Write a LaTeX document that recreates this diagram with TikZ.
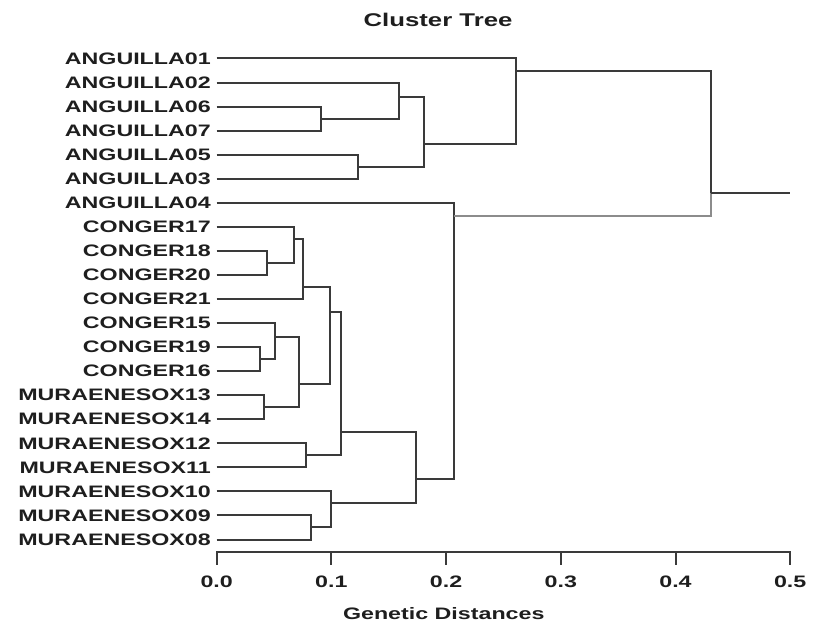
\documentclass[tikz,border=0pt]{standalone}
\usepackage{fontspec}
\setmainfont{Liberation Sans}[FakeStretch=1.4]
\definecolor{treeline}{HTML}{3A3A3A}
\definecolor{thinline}{HTML}{8C8C8C}
\definecolor{lbltext}{HTML}{1E1E1E}
\begin{document}
\begin{tikzpicture}
  [x=573.5pt,y=-12.025pt,
   every node/.style={font=\bfseries\fontsize{8.3pt}{9pt}\selectfont,text=lbltext},
   lbl/.style={anchor=east,inner xsep=2.75pt,inner ysep=0pt},
   link/.style={draw=treeline,line width=1pt}]
  \useasboundingbox (-0.1889,-2.432) rectangle (0.5321,23.971);

  \node (title) at (0.193,-1.6) {\fontsize{9.2pt}{10pt}\selectfont Cluster Tree};

  % leaves
  \node[lbl] (a01) at (0,0) {ANGUILLA01};
  \node[lbl] (a02) at (0,1) {ANGUILLA02};
  \node[lbl] (a06) at (0,2) {ANGUILLA06};
  \node[lbl] (a07) at (0,3) {ANGUILLA07};
  \node[lbl] (a05) at (0,4) {ANGUILLA05};
  \node[lbl] (a03) at (0,5) {ANGUILLA03};
  \node[lbl] (a04) at (0,6) {ANGUILLA04};
  \node[lbl] (c17) at (0,7) {CONGER17};
  \node[lbl] (c18) at (0,8) {CONGER18};
  \node[lbl] (c20) at (0,9) {CONGER20};
  \node[lbl] (c21) at (0,10) {CONGER21};
  \node[lbl] (c15) at (0,11) {CONGER15};
  \node[lbl] (c19) at (0,12) {CONGER19};
  \node[lbl] (c16) at (0,13) {CONGER16};
  \node[lbl] (m13) at (0,14) {MURAENESOX13};
  \node[lbl] (m14) at (0,15) {MURAENESOX14};
  \node[lbl] (m12) at (0,16) {MURAENESOX12};
  \node[lbl] (m11) at (0,17) {MURAENESOX11};
  \node[lbl] (m10) at (0,18) {MURAENESOX10};
  \node[lbl] (m09) at (0,19) {MURAENESOX09};
  \node[lbl] (m08) at (0,20) {MURAENESOX08};

  % joins
  \coordinate (j0607) at (0.091,2.5);
  \coordinate (j02) at (0.159,1.59);
  \coordinate (j0503) at (0.123,4.5);
  \coordinate (jang) at (0.181,3.57);
  \coordinate (ja01) at (0.261,0.51);
  \coordinate (j1820) at (0.044,8.5);
  \coordinate (j17) at (0.067,7.52);
  \coordinate (j21) at (0.075,9.51);
  \coordinate (j1916) at (0.038,12.5);
  \coordinate (j15) at (0.051,11.57);
  \coordinate (j1314) at (0.041,14.5);
  \coordinate (jc15) at (0.072,13.53);
  \coordinate (jcon) at (0.099,10.53);
  \coordinate (j1211) at (0.078,16.5);
  \coordinate (jcm) at (0.108,15.52);
  \coordinate (j0908) at (0.082,19.5);
  \coordinate (j10) at (0.100,18.47);
  \coordinate (jmur) at (0.174,17.5);
  \coordinate (ja04) at (0.207,6.55);
  \coordinate (jroot) at (0.431,5.58);
  \coordinate (rootend) at (0.5,5.58);

  \draw[link] (a06.east) -| (j0607);
  \draw[link] (a07.east) -| (j0607);
  \draw[link] (a02.east) -| (j02);
  \draw[link] (j0607) -| (j02);
  \draw[link] (a05.east) -| (j0503);
  \draw[link] (a03.east) -| (j0503);
  \draw[link] (j02) -| (jang);
  \draw[link] (j0503) -| (jang);
  \draw[link] (a01.east) -| (ja01);
  \draw[link] (jang) -| (ja01);

  \draw[link] (c18.east) -| (j1820);
  \draw[link] (c20.east) -| (j1820);
  \draw[link] (c17.east) -| (j17);
  \draw[link] (j1820) -| (j17);
  \draw[link] (j17) -| (j21);
  \draw[link] (c21.east) -| (j21);
  \draw[link] (c19.east) -| (j1916);
  \draw[link] (c16.east) -| (j1916);
  \draw[link] (c15.east) -| (j15);
  \draw[link] (j1916) -| (j15);
  \draw[link] (m13.east) -| (j1314);
  \draw[link] (m14.east) -| (j1314);
  \draw[link] (j15) -| (jc15);
  \draw[link] (j1314) -| (jc15);
  \draw[link] (j21) -| (jcon);
  \draw[link] (jc15) -| (jcon);
  \draw[link] (m12.east) -| (j1211);
  \draw[link] (m11.east) -| (j1211);
  \draw[link] (jcon) -| (jcm);
  \draw[link] (j1211) -| (jcm);
  \draw[link] (m09.east) -| (j0908);
  \draw[link] (m08.east) -| (j0908);
  \draw[link] (m10.east) -| (j10);
  \draw[link] (j0908) -| (j10);
  \draw[link] (jcm) -| (jmur);
  \draw[link] (j10) -| (jmur);
  \draw[link] (a04.east) -| (ja04);
  \draw[link] (jmur) -| (ja04);

  \draw[link] (ja01) -| (jroot);
  \draw[link,draw=thinline,line width=0.6pt] (ja04) -| (jroot);
  \draw[link] (jroot) -- (rootend);

  % axis
  \draw[link] (0,21.04) -- (0,20.53) -- (0.5,20.53) -- (0.5,21.04);
  \foreach \t in {0,...,5}{
    \draw[link] (0.1*\t,20.53) -- (0.1*\t,21.04);
    \node (t\t) at (0.1*\t,21.75) {0.\t};
  }
  \node (xlab) at (0.198,23.1) {Genetic Distances};
\end{tikzpicture}
\end{document}
